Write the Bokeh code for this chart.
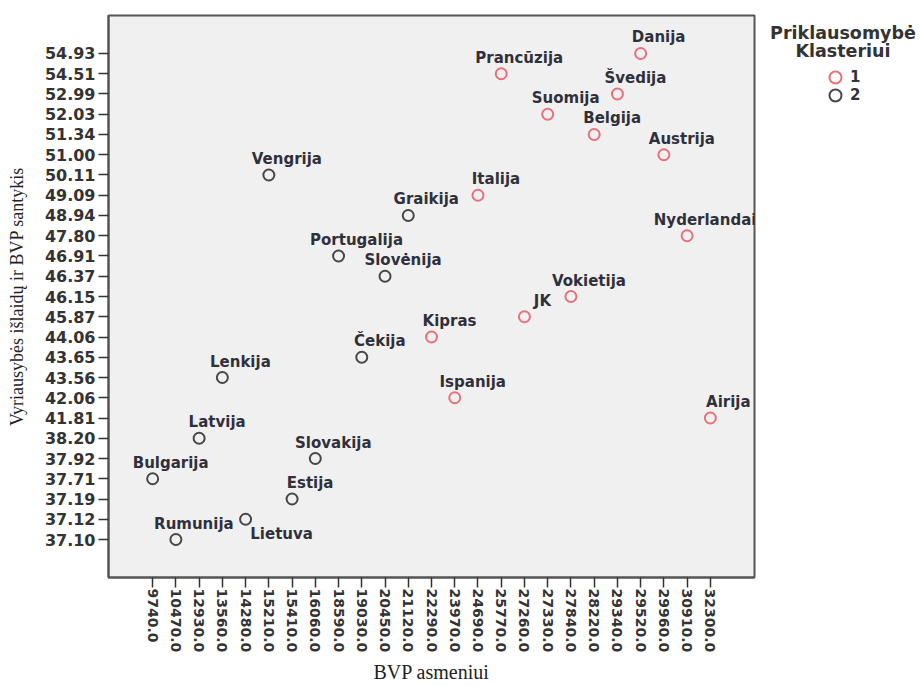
import math
from bokeh.plotting import figure
from bokeh.layouts import row
from bokeh.models import FactorRange, Range1d, ColumnDataSource, Legend, LegendItem, Label
from bokeh.core.properties import value
from bokeh.embed import file_html
from bokeh.resources import INLINE

# ---- data ----
countries = ["Danija", "Prancūzija", "Švedija", "Suomija", "Belgija", "Austrija",
             "Vengrija", "Italija", "Graikija", "Nyderlandai", "Portugalija",
             "Slovėnija", "Vokietija", "JK", "Kipras", "Čekija", "Lenkija",
             "Ispanija", "Airija", "Latvija", "Slovakija", "Bulgarija", "Estija",
             "Lietuva", "Rumunija"]
gdp_per_capita = [29520.0, 25770.0, 29340.0, 27330.0, 28220.0, 29960.0,
                  15210.0, 24690.0, 21120.0, 30910.0, 18590.0,
                  20450.0, 27840.0, 27260.0, 22290.0, 19030.0, 13560.0,
                  23970.0, 32300.0, 12930.0, 16060.0, 9740.0, 15410.0,
                  14280.0, 10470.0]
gov_ratio = [54.93, 54.51, 52.99, 52.03, 51.34, 51.00,
             50.11, 49.09, 48.94, 47.80, 46.91,
             46.37, 46.15, 45.87, 44.06, 43.65, 43.56,
             42.06, 41.81, 38.20, 37.92, 37.71, 37.19,
             37.12, 37.10]
cluster = [1, 1, 1, 1, 1, 1,
           2, 1, 2, 1, 2,
           2, 1, 1, 1, 2, 2,
           1, 1, 2, 2, 2, 2,
           2, 2]
cluster_ids = [1, 2]

x_title = "BVP asmeniui"
y_title = "Vyriausybės išlaidų ir BVP santykis"
legend_title = ["Priklausomybė", "Klasteriui"]

# ---- styling ----
cluster_colors = {1: "#e8707b", 2: "#474747"}
label_offset_default = (18, -16)
label_offset_special = {"Lietuva": (36, 15)}
H = 686
TOP, BOTTOM = 15, 104
LEG_W = 165
FRAME_H = H - TOP - BOTTOM

x_factors = [f"{v:.1f}" for v in sorted(gdp_per_capita)]
y_factors = [f"{v:.2f}" for v in sorted(gov_ratio)]

p = figure(width=756, height=H,
           x_range=FactorRange(*x_factors, range_padding=1.4, range_padding_units="absolute"),
           y_range=FactorRange(*y_factors, range_padding=1.375, range_padding_units="absolute"),
           output_backend="svg", toolbar_location=None,
           min_border_left=108, min_border_right=2,
           min_border_top=TOP, min_border_bottom=BOTTOM)

p.background_fill_color = "#f0f0f0"
p.border_fill_color = "white"
p.outline_line_color = "#555555"
p.outline_line_width = 2
p.grid.visible = False

for ax in (p.xaxis, p.yaxis):
    ax.axis_line_color = "#555555"
    ax.axis_line_width = 2
    ax.major_tick_out = 10
    ax.major_tick_in = 0
    ax.major_tick_line_color = "#333333"
    ax.major_tick_line_width = 1.5
    ax.minor_tick_line_color = None
    ax.major_label_text_font = "DejaVu Sans"
    ax.major_label_text_font_style = "bold"
    ax.major_label_text_color = "#333333"
    ax.axis_label_text_font = "Liberation Serif"
    ax.axis_label_text_font_style = "normal"
    ax.axis_label_text_color = "#222222"

p.xaxis.major_label_orientation = -math.pi / 2
p.xaxis.major_label_text_font_size = "14px"
p.xaxis.major_label_standoff = 1
p.xaxis.axis_label = x_title
p.xaxis.axis_label_text_font_size = "20px"
p.xaxis.axis_label_standoff = 6

p.yaxis.major_label_text_font_size = "16px"
p.yaxis.major_label_standoff = 3
p.yaxis.axis_label = y_title
p.yaxis.axis_label_text_font_size = "18px"
p.yaxis.axis_label_standoff = 15

for c in cluster_ids:
    idx = [i for i in range(len(countries)) if cluster[i] == c]
    src = ColumnDataSource(dict(
        x=[f"{gdp_per_capita[i]:.1f}" for i in idx],
        y=[f"{gov_ratio[i]:.2f}" for i in idx],
        name=[countries[i] for i in idx],
        xo=[label_offset_special.get(countries[i], label_offset_default)[0] for i in idx],
        yo=[label_offset_special.get(countries[i], label_offset_default)[1] for i in idx],
    ))
    p.scatter("x", "y", source=src, marker="circle", size=11,
              fill_color=None, line_color=cluster_colors[c], line_width=2)
    p.text("x", "y", text="name", source=src, x_offset="xo", y_offset="yo",
           text_align="center", text_baseline="middle",
           text_font=value("DejaVu Sans"), text_font_style="bold",
           text_font_size="15px", text_color="#30303c")

# ---- legend panel (separate figure to the right of the plot) ----
q = figure(width=LEG_W, height=H, x_range=Range1d(0, LEG_W), y_range=Range1d(0, FRAME_H),
           x_axis_location=None, y_axis_location=None,
           min_border_left=0, min_border_right=0,
           min_border_top=TOP, min_border_bottom=BOTTOM,
           outline_line_color=None, toolbar_location=None, output_backend="svg")
q.grid.visible = False
q.background_fill_color = "white"
q.border_fill_color = "white"

# legend positions are measured upward from the bottom of the frame
for k, c in enumerate(cluster_ids):
    r = q.scatter(x=[float("nan")], y=[float("nan")], marker="circle", size=11,
                  fill_color=None, line_color=cluster_colors[c], line_width=2)
    leg = Legend(items=[LegendItem(label=str(c), renderers=[r])],
                 location=(64, FRAME_H - 97 + TOP - 18 * k), orientation="vertical",
                 glyph_width=30, glyph_height=30, label_height=18, spacing=0,
                 padding=0, margin=0, label_standoff=-3,
                 border_line_color=None, background_fill_alpha=0,
                 label_text_font="DejaVu Sans", label_text_font_style="bold",
                 label_text_font_size="15px", label_text_color="#333333")
    q.add_layout(leg)

for k, line in enumerate(legend_title):
    q.add_layout(Label(x=86.5, y=H - BOTTOM - 33 - 18 * k, text=line,
                       text_align="center", text_baseline="middle",
                       text_font="DejaVu Sans", text_font_style="bold",
                       text_font_size="17.5px", text_color="#333333"))

layout = row(p, q, spacing=0)
open("out.html", "w").write(file_html(layout, INLINE))
